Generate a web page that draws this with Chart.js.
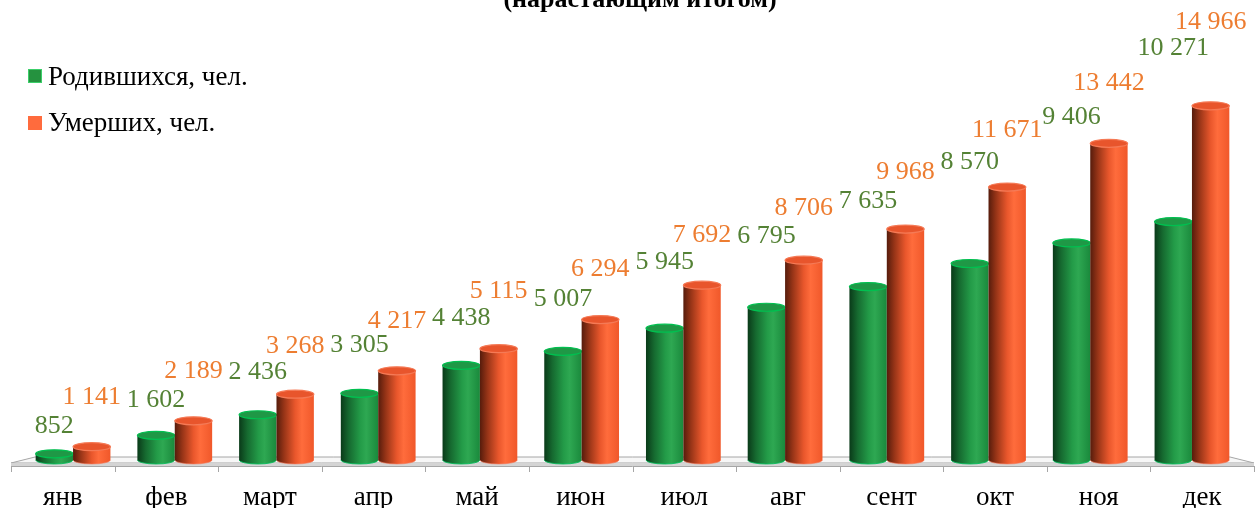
<!DOCTYPE html>
<html>
<head>
<meta charset="utf-8">
<script src="https://cdn.jsdelivr.net/npm/chart.js@4"></script>
<style>
  html, body { margin: 0; padding: 0; background: #ffffff; }
  #wrap { width: 1255px; height: 508px; }
</style>
</head>
<body>
<div id="wrap"><canvas id="chart" width="1255" height="508"></canvas></div>
<script>
const months = ["янв", "фев", "март", "апр", "май", "июн", "июл", "авг", "сент", "окт", "ноя", "дек"];
const births = [852, 1602, 2436, 3305, 4438, 5007, 5945, 6795, 7635, 8570, 9406, 10271];
const deaths = [1141, 2189, 3268, 4217, 5115, 6294, 7692, 8706, 9968, 11671, 13442, 14966];
const seriesNames = ["Родившихся, чел.", "Умерших, чел."];
const titleText = "(нарастающим итогом)";

// how far each value label floats above its column top (px)
const birthLabelLift = [28, 35, 43, 48, 47, 52, 66, 71, 85, 101, 126, 173];
const deathLabelLift = [49, 50, 48, 50, 58, 50, 50, 52, 57, 57, 60, 84];

const FONT = "'Liberation Serif', 'Times New Roman', serif";
const labelColors = ["#548235", "#ED7D31"];

const green = {
  body: [[0, "#0a3a19"], [0.22, "#166a30"], [0.52, "#239b48"], [0.68, "#2ea852"], [1, "#1a893c"]],
  top: "#1f9846", rim: "#00c050", edge: "rgba(0,190,90,0.85)", legend: "#25923f"
};
const orange = {
  body: [[0, "#561c0c"], [0.2, "#963417"], [0.5, "#e9572c"], [0.68, "#ff6c3c"], [1, "#f0582a"]],
  top: "#e8552c", rim: "#f57a56", edge: "rgba(245,120,90,0.6)", legend: "#ff6b3d"
};
const looks = [green, orange];

// slight perspective pull of the columns toward the middle
const squeeze = 0.982;

function cylinder(ctx, x, top, base, w, look) {
  const rx = w / 2, ry = 4;
  const left = x - rx, right = x + rx;
  const g = ctx.createLinearGradient(left, 0, right, 0);
  look.body.forEach(function(s) { g.addColorStop(s[0], s[1]); });

  ctx.beginPath();
  ctx.moveTo(left, top);
  ctx.lineTo(left, base);
  ctx.ellipse(x, base, rx, ry, 0, Math.PI, 0, true);
  ctx.lineTo(right, top);
  ctx.closePath();
  ctx.fillStyle = g;
  ctx.fill();
  ctx.strokeStyle = look.edge;
  ctx.lineWidth = 1;
  ctx.beginPath();
  ctx.ellipse(x, base, rx, ry, 0, Math.PI, 0, true);
  ctx.stroke();

  ctx.beginPath();
  ctx.ellipse(x, top, rx, ry, 0, 0, Math.PI * 2);
  ctx.fillStyle = look.top;
  ctx.fill();
  ctx.strokeStyle = look.rim;
  ctx.lineWidth = 1.2;
  ctx.stroke();
}

const chart3d = {
  id: "chart3d",
  beforeDatasetsDraw(chart) {
    const ctx = chart.ctx;
    const area = chart.chartArea;
    ctx.save();
    // floor
    ctx.beginPath();
    ctx.moveTo(area.left, 463);
    ctx.lineTo(area.left + 24, 457);
    ctx.lineTo(area.right - 24, 457);
    ctx.lineTo(area.right, 463);
    ctx.closePath();
    ctx.fillStyle = "#f7f7f7";
    ctx.fill();
    ctx.strokeStyle = "#a6a6a6";
    ctx.lineWidth = 1;
    ctx.stroke();
    ctx.fillStyle = "#d4d4d4";
    ctx.fillRect(area.left, 463, area.right - area.left, 3);
    ctx.beginPath();
    ctx.moveTo(area.left, 466.5);
    ctx.lineTo(area.right, 466.5);
    ctx.stroke();
    // category ticks
    const step = (area.right - area.left) / months.length;
    for (let i = 0; i <= months.length; i++) {
      const tx = Math.round(area.left + step * i) + 0.5;
      ctx.beginPath();
      ctx.moveTo(tx, 466);
      ctx.lineTo(tx, 472);
      ctx.stroke();
    }
    ctx.restore();
  },
  afterDatasetsDraw(chart) {
    const ctx = chart.ctx;
    const area = chart.chartArea;
    const cx = (area.left + area.right) / 2;
    const lifts = [birthLabelLift, deathLabelLift];
    ctx.save();
    for (let i = 0; i < months.length; i++) {
      for (let d = 0; d < 2; d++) {
        const bar = chart.getDatasetMeta(d).data[i];
        const x = cx + (bar.x - cx) * squeeze;
        const base = Math.min(bar.base, area.bottom);
        cylinder(ctx, x, bar.y, base, bar.width * squeeze, looks[d]);
      }
    }
    // value labels
    ctx.font = "26px " + FONT;
    ctx.textAlign = "center";
    ctx.textBaseline = "middle";
    for (let d = 0; d < 2; d++) {
      const meta = chart.getDatasetMeta(d);
      const vals = chart.data.datasets[d].data;
      ctx.fillStyle = labelColors[d];
      meta.data.forEach(function(bar, i) {
        const x = cx + (bar.x - cx) * squeeze;
        const txt = vals[i].toLocaleString("ru-RU").replace(/\s/g, " ");
        ctx.fillText(txt, x, bar.y - lifts[d][i]);
      });
    }
    // category labels
    const xs = chart.scales.x;
    ctx.font = "27px " + FONT;
    ctx.fillStyle = "#000000";
    ctx.textBaseline = "alphabetic";
    months.forEach(function(m, i) {
      ctx.fillText(m, xs.getPixelForTick(i), 505);
    });
    // title (cut at the top edge like the source)
    ctx.font = "bold 26px " + FONT;
    ctx.fillText(titleText, 640, 7);
    // legend
    ctx.textAlign = "left";
    ctx.font = "27px " + FONT;
    const rows = [{ y: 69, base: 85 }, { y: 116, base: 131 }];
    rows.forEach(function(r, k) {
      ctx.fillStyle = looks[k].legend;
      ctx.fillRect(28, r.y, 14, 14);
      if (k === 0) {
        ctx.strokeStyle = "#3ccf6a";
        ctx.lineWidth = 1;
        ctx.strokeRect(28.5, r.y + 0.5, 13, 13);
      }
      ctx.fillStyle = "#000000";
      ctx.fillText(seriesNames[k], 48, r.base);
    });
    ctx.restore();
  }
};

new Chart(document.getElementById("chart"), {
  type: "bar",
  data: {
    labels: months,
    datasets: [
      { label: seriesNames[0], data: births, backgroundColor: "rgba(0,0,0,0)", borderWidth: 0 },
      { label: seriesNames[1], data: deaths, backgroundColor: "rgba(0,0,0,0)", borderWidth: 0 }
    ]
  },
  options: {
    responsive: false,
    animation: false,
    events: [],
    layout: { padding: { top: 31, bottom: 48, left: 11, right: 1 } },
    plugins: {
      legend: { display: false },
      title: { display: false },
      tooltip: { enabled: false }
    },
    datasets: { bar: { categoryPercentage: 0.735, barPercentage: 1.0 } },
    scales: {
      x: { display: false, offset: true },
      y: { display: false, min: 600, max: 18000 }
    }
  },
  plugins: [chart3d]
});
</script>
</body>
</html>
